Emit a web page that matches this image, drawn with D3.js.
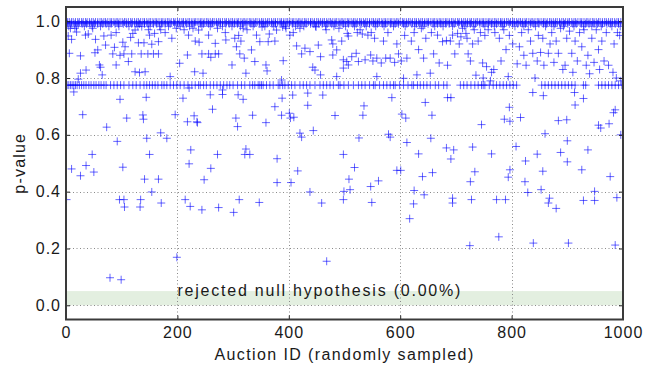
<!DOCTYPE html>
<meta charset="utf-8">
<style>
body { margin: 0; background: #fff; }
svg text { font-family: "Liberation Sans", Arial, sans-serif; fill: #1a1a1a; }
</style>
<svg width="656" height="369"></svg>
<script src="https://d3js.org/d3.v7.min.js"></script>
<script>
// ---- data ----
var xTicks = [0, 200, 400, 600, 800, 1000];
var yTicks = [0.0, 0.2, 0.4, 0.6, 0.8, 1.0];
var nullBand = [0, 0.05];
var rejectedLabel = "rejected null hypothesis (0.00%)";

// the solid row at p ~ 1.0
var topRowP = 0.997;
var topRowIds = [0,3,6,10,13,17,21,24,28,31,35,38,42,46,49,53,57,61,64,68,71,75,79,82,86,90,93,97,101,105,108,112,116,119,123,127,130,134,138,141,145,149,152,156,160,163,167,171,174,178,182,185,189,193,196,200,204,208,211,215,219,222,226,230,233,237,241,244,248,252,255,259,263,266,270,274,277,281,285,288,292,296,299,303,307,310,314,318,321,325,329,332,336,340,343,347,351,354,358,362,365,369,373,376,380,384,387,391,395,398,402,406,409,413,417,420,424,428,431,435,439,442,446,450,453,457,461,464,468,472,475,479,483,486,490,494,497,501,505,508,512,516,519,523,527,530,534,538,541,545,549,552,556,560,563,567,571,574,578,582,585,589,593,596,600,604,607,611,615,618,622,626,629,633,637,640,644,648,651,655,659,662,666,670,673,677,681,684,688,692,695,699,703,706,710,714,717,721,725,728,732,736,739,743,747,750,754,758,761,765,769,772,776,780,783,787,791,794,798,802,805,809,813,816,820,824,827,831,835,838,842,846,849,853,857,860,864,868,871,875,879,882,886,890,893,897,901,904,908,912,915,919,923,926,930,934,937,941,945,948,952,956,959,963,967,970,974,978,981,985,989,992,996,999];

// crowded rows just under it
var nearTopP = 0.991;
var nearTopIds = [2,9,16,22,29,37,43,51,57,66,72,81,88,94,103,109,118,126,132,141,147,157,163,172,178,187,195,201,210,216,226,231,241,247,256,262,271,277,287,293,302,308,317,323,332,338,348,354,361,370,376,386,391,401,407,416,422,431,439,445,454,460,469,477,483,492,498,507,515,521,530,536,545,553,559,568,574,583,591,597,606,612,621,629,635,644,650,659,667,673,682,688,697,705,711,720,726,735,743,749,758,764,773,781,787,796,802,811,819,825,834,840,849,857,863,872,878,887,895,901,910,916,925,933,939,948,954,963,971,977,986,992];
var thirdRowP = 0.982;
var thirdRowIds = [5,19,33,47,62,77,95,113,129,151,168,184,205,222,244,259,281,298,313,336,357,373,394,412,427,448,466,481,502,518,539,556,571,588,609,626,641,662,677,694,716,731,752,769,784,806,822,843,861,876,893,912,929,944,961,980,995];

// the flat band of p-values near 0.775
var bandP = 0.775;
var bandIds = [2,5,8,11,14,17,20,24,28,32,36,41,45,50,54,59,63,68,72,80,86,92,98,104,113,120,126,133,140,145,150,155,160,165,172,176,181,187,193,199,205,212,219,226,232,238,241,247,252,259,265,271,277,283,289,294,300,308,315,321,330,335,339,345,348,351,354,360,366,372,381,384,389,393,399,405,411,420,426,432,438,447,456,462,468,474,480,489,492,499,507,516,525,531,537,545,552,555,563,570,576,582,588,591,599,606,614,621,624,631,636,642,648,654,663,669,678,684,708,714,720,727,734,740,746,749,752,760,767,773,779,785,791,797,803,809,854,860,866,872,878,884,890,896,902,908,914,929,933,956,962,968,974,980,986,992,998];

// scattered points between the band and the top rows
var upperPoints = [
  [4,0.948],[8,0.975],[10,0.936],[6,0.887],[16,0.975],[19,0.962],[22,0.796],[26,0.878],[26,0.817],[35,0.951],[36,0.828],[40,0.955],[48,0.975],
  [52,0.889],[53,0.936],[57,0.899],[60,0.846],[62,0.838],[65,0.811],[68,0.948],[71,0.916],[81,0.951],[84,0.885],[87,0.908],[90,0.96],[90,0.846],[97,0.88],
  [102,0.926],[104,0.885],[106,0.91],[112,0.858],[116,0.943],[118,0.885],[120,0.957],[124,0.969],[124,0.822],[130,0.924],[132,0.819],[135,0.885],[136,0.981],[140,0.924],[142,0.822],[147,0.885],[148,0.97],
  [150,0.951],[154,0.919],[157,0.885],[159,0.957],[166,0.928],[166,0.885],[170,0.97],[178,0.96],[187,0.805],[190,0.94],[198,0.975],
  [204,0.852],[212,0.97],[218,0.881],[220,0.951],[228,0.975],[231,0.822],[232,0.93],[238,0.969],[239,0.926],[244,0.885],[246,0.817],
  [256,0.951],[256,0.885],[260,0.873],[268,0.922],[268,0.885],[272,0.975],[274,0.885],[286,0.96],[287,0.934],[298,0.846],
  [303,0.94],[306,0.91],[310,0.95],[312,0.885],[314,0.93],[318,0.975],[320,0.87],[323,0.817],[325,0.97],[333,0.899],[339,0.858],[342,0.951],[348,0.928],
  [352,0.98],[359,0.846],[361,0.825],[363,0.928],[365,0.955],[375,0.93],[378,0.969],[387,0.793],[389,0.98],[390,0.861],[395,0.975],
  [402,0.951],[408,0.96],[414,0.913],[420,0.975],[423,0.885],[429,0.905],[438,0.893],[443,0.838],[447,0.828],[449,0.98],
  [453,0.916],[457,0.875],[457,0.811],[467,0.97],[477,0.934],[479,0.92],[479,0.881],[486,0.899],[486,0.805],[490,0.975],[495,0.93],[498,0.864],[498,0.835],
  [504,0.858],[505,0.957],[507,0.948],[507,0.846],[513,0.875],[521,0.887],[523,0.96],[525,0.858],[528,0.97],[532,0.955],[537,0.864],[542,0.951],[547,0.881],[548,0.96],
  [551,0.86],[554,0.94],[558,0.805],[558,0.87],[566,0.853],[570,0.93],[574,0.87],[578,0.96],[582,0.87],[590,0.855],[594,0.92],[597,0.885],
  [602,0.86],[606,0.799],[608,0.95],[612,0.87],[620,0.93],[625,0.96],[630,0.811],[633,0.9],[638,0.975],[642,0.87],[646,0.94],
  [654,0.817],[656,0.96],[660,0.885],[667,0.951],[670,0.853],[676,0.928],[683,0.932],[685,0.845],[690,0.93],[694,0.951],[698,0.885],
  [703,0.957],[706,0.92],[709,0.945],[712,0.975],[718,0.957],[720,0.94],[722,0.885],[726,0.86],[730,0.92],[733,0.97],[736,0.81],[740,0.93],[744,0.96],[748,0.853],[749,0.8],
  [752,0.95],[755,0.84],[758,0.97],[762,0.79],[764,0.82],[768,0.83],[770,0.96],[778,0.94],[781,0.86],[786,0.97],[790,0.9],[794,0.805],[796,0.95],
  [802,0.92],[810,0.85],[814,0.91],[818,0.96],[822,0.88],[826,0.845],[830,0.97],[834,0.93],[838,0.887],[842,0.8],[846,0.86],[848,0.95],
  [852,0.89],[856,0.94],[858,0.845],[866,0.887],[869,0.92],[872,0.96],[876,0.855],[880,0.93],[884,0.887],[888,0.975],[892,0.83],[896,0.845],[899,0.94],
  [904,0.965],[908,0.887],[910,0.82],[914,0.93],[918,0.86],[922,0.96],[926,0.91],[930,0.97],[934,0.845],[937,0.88],[940,0.815],[944,0.94],[948,0.855],
  [952,0.97],[956,0.9],[958,0.83],[962,0.93],[966,0.86],[970,0.96],[974,0.845],[982,0.82],[984,0.92],[988,0.8],[990,0.96],[994,0.95],[996,0.79]
];

// sparse points below the band
var lowerPoints = [
  [1,0.372],[10,0.48],[14,0.751],[26,0.456],[30,0.671],[36,0.492],[47,0.531],[50,0.469],[73,0.627],[79,0.097],[92,0.577],[96,0.372],[97,0.725],[99,0.09],
  [102,0.486],[104,0.372],[105,0.346],[109,0.659],[133,0.346],[134,0.372],[138,0.67],[139,0.655],[141,0.444],[144,0.732],[145,0.588],[150,0.531],[154,0.399],
  [166,0.444],[170,0.607],[171,0.36],[181,0.588],[196,0.671],[199,0.169],[210,0.729],[214,0.372],[218,0.646],[221,0.765],[221,0.498],[223,0.348],[224,0.547],
  [230,0.667],[235,0.646],[236,0.643],[244,0.336],[248,0.442],[259,0.741],[260,0.482],[263,0.69],[272,0.531],[274,0.344],[281,0.742],[281,0.758],
  [301,0.327],[305,0.659],[308,0.629],[309,0.741],[311,0.372],[318,0.725],[321,0.531],[323,0.55],[330,0.531],[335,0.669],[347,0.362],[359,0.643],
  [375,0.699],[379,0.516],[379,0.432],[387,0.669],[388,0.729],[401,0.676],[403,0.659],[404,0.432],[407,0.74],[409,0.662],[416,0.473],[420,0.606],[423,0.592],
  [434,0.704],[434,0.747],[438,0.399],[444,0.615],[459,0.36],[461,0.74],[468,0.155],[483,0.668],
  [498,0.531],[499,0.401],[498,0.372],[508,0.444],[510,0.407],[518,0.485],[526,0.589],[533,0.669],[535,0.702],[547,0.418],[549,0.362],[561,0.438],
  [579,0.602],[582,0.592],[585,0.731],[594,0.475],[601,0.475],[603,0.673],[610,0.659],[612,0.573],[617,0.305],[624,0.357],[625,0.404],[633,0.533],
  [640,0.453],[643,0.389],[645,0.714],[655,0.588],[657,0.669],[658,0.467],[683,0.554],[685,0.731],[691,0.731],[691,0.515],[694,0.377],[694,0.36],[696,0.547],
  [725,0.21],[726,0.435],[728,0.372],[730,0.557],[734,0.47],[746,0.636],[764,0.533],[773,0.372],[777,0.241],[787,0.655],[789,0.372],[794,0.451],
  [796,0.697],[797,0.477],[797,0.648],[808,0.559],[816,0.661],[824,0.435],[825,0.508],[829,0.397],[838,0.749],[839,0.219],[846,0.532],[853,0.407],
  [856,0.472],[857,0.738],[860,0.604],[866,0.36],[868,0.377],[880,0.341],[884,0.65],[888,0.538],[899,0.653],[900,0.579],[900,0.505],[902,0.219],
  [913,0.749],[914,0.705],[926,0.477],[929,0.369],[929,0.728],[937,0.547],[949,0.401],[949,0.369],[956,0.634],[960,0.624],[975,0.639],[977,0.453],
  [983,0.678],[986,0.688],[986,0.212],[989,0.379],[996,0.6]
];

// ---- drawing ----
var svg = d3.select('svg');
var plotLeft = 66, plotRight = 623, plotTop = 7, plotBottom = 319.5;

var x = d3.scaleLinear().domain([0, 1000]).range([plotLeft, plotRight]);
var y = d3.scaleLinear().domain([-0.05, 1.05]).range([plotBottom, plotTop]);

// build one list of points from the rows
var points = [];
topRowIds.forEach(function (id) { points.push([id, topRowP]) });
nearTopIds.forEach(function (id) { points.push([id, nearTopP]) });
thirdRowIds.forEach(function (id) { points.push([id, thirdRowP]) });
bandIds.forEach(function (id) { points.push([id, bandP]) });
upperPoints.forEach(function (p) { points.push(p) });
lowerPoints.forEach(function (p) { points.push(p) });

svg.append('defs').append('clipPath').attr('id', 'plotclip')
  .append('rect')
  .attr('x', plotLeft).attr('y', plotTop)
  .attr('width', plotRight - plotLeft).attr('height', plotBottom - plotTop);

// green band for rejected null hypothesis
svg.append('rect')
  .attr('x', plotLeft)
  .attr('width', plotRight - plotLeft)
  .attr('y', y(nullBand[1]))
  .attr('height', y(nullBand[0]) - y(nullBand[1]))
  .attr('fill', '#e3efe0');

// dotted grid
var grid = svg.append('g')
  .attr('stroke', '#8a8a8a')
  .attr('stroke-width', 1)
  .attr('stroke-dasharray', '1,2.5');
grid.selectAll('line.h').data(yTicks).enter().append('line')
  .attr('x1', plotLeft).attr('x2', plotRight)
  .attr('y1', function (d) { return Math.round(y(d)) + 0.5 })
  .attr('y2', function (d) { return Math.round(y(d)) + 0.5 });
grid.selectAll('line.v').data(xTicks.slice(1, -1)).enter().append('line')
  .attr('y1', plotTop).attr('y2', plotBottom)
  .attr('x1', function (d) { return Math.round(x(d)) + 0.5 })
  .attr('x2', function (d) { return Math.round(x(d)) + 0.5 });

svg.append('text')
  .attr('x', x(200))
  .attr('y', 296)
  .attr('font-size', 16)
  .attr('textLength', 283)
  .attr('lengthAdjust', 'spacing')
  .text(rejectedLabel);

// the + markers
svg.append('g')
  .attr('clip-path', 'url(#plotclip)')
  .selectAll('path')
  .data(points)
  .enter().append('path')
    .attr('d', function (p) { return 'M' + (x(p[0]) - 4) + ',' + y(p[1]) + 'h8M' + x(p[0]) + ',' + (y(p[1]) - 4) + 'v8' })
    .attr('stroke', '#0000ff')
    .attr('stroke-opacity', 0.6)
    .attr('stroke-width', 1)
    .attr('fill', 'none');

// axes with inward ticks
var yAxis = d3.axisLeft(y).tickValues(yTicks).tickFormat(d3.format('.1f')).tickSize(-4).tickPadding(5);
var xAxis = d3.axisBottom(x).tickValues(xTicks).tickFormat(d3.format('d')).tickSize(-4).tickPadding(7);
var yAxisR = d3.axisRight(y).tickValues(yTicks).tickFormat('').tickSize(-4);
var xAxisT = d3.axisTop(x).tickValues(xTicks).tickFormat('').tickSize(-4);

function styleAxis(g) {
  g.select('.domain').remove();
  g.selectAll('line').attr('stroke', '#222');
  g.selectAll('text')
    .attr('font-size', 16)
    .attr('letter-spacing', 1)
    .attr('fill', '#1a1a1a')
    .attr('font-family', '"Liberation Sans", Arial, sans-serif');
}
svg.append('g').attr('transform', 'translate(' + plotLeft + ',0)').call(yAxis).call(styleAxis);
svg.append('g').attr('transform', 'translate(0,' + plotBottom + ')').call(xAxis).call(styleAxis);
svg.append('g').attr('transform', 'translate(' + plotRight + ',0)').call(yAxisR).call(styleAxis);
svg.append('g').attr('transform', 'translate(0,' + plotTop + ')').call(xAxisT).call(styleAxis);

// frame
svg.append('rect')
  .attr('x', plotLeft).attr('y', plotTop)
  .attr('width', plotRight - plotLeft).attr('height', plotBottom - plotTop)
  .attr('fill', 'none')
  .attr('stroke', '#3a3a3a')
  .attr('stroke-width', 2);

// axis titles
svg.append('text')
  .attr('x', (plotLeft + plotRight) / 2)
  .attr('y', 360)
  .attr('text-anchor', 'middle')
  .attr('font-size', 16)
  .attr('letter-spacing', 1.4)
  .text('Auction ID (randomly sampled)');

svg.append('text')
  .attr('transform', 'translate(25,' + ((plotTop + plotBottom) / 2) + ') rotate(-90)')
  .attr('text-anchor', 'middle')
  .attr('font-size', 16)
  .attr('letter-spacing', 1.2)
  .text('p-value');
</script>
